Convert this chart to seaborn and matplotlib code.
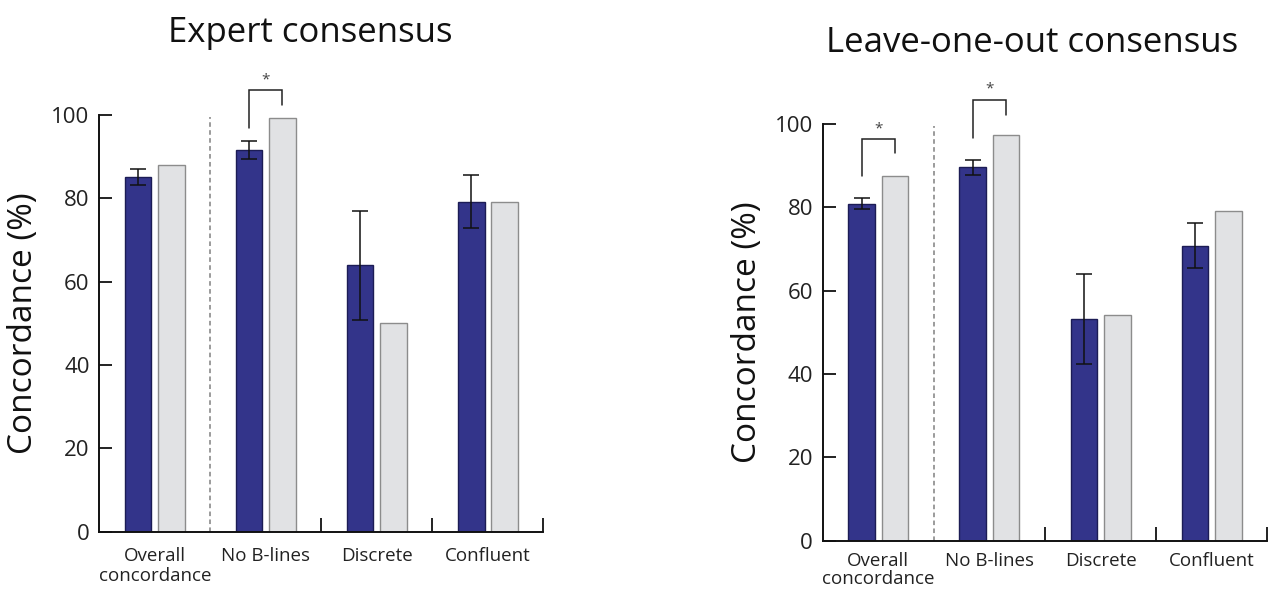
import numpy as np
import pandas as pd
import matplotlib
matplotlib.use("Agg")
import matplotlib.pyplot as plt
import seaborn as sns

categories = ["Overall\nconcordance", "No B-lines", "Discrete", "Confluent"]
series = ["Algorithm", "Reader"]

# Expert consensus panel
expert_algo = [85.0, 91.5, 64.0, 79.1]
expert_algo_low = [83.2, 89.4, 50.9, 73.0]
expert_algo_high = [87.0, 93.7, 77.0, 85.5]
expert_reader = [87.9, 99.3, 50.0, 79.2]

# Leave-one-out consensus panel
loo_algo = [80.7, 89.6, 53.2, 70.7]
loo_algo_low = [79.5, 87.8, 42.4, 65.4]
loo_algo_high = [82.2, 91.4, 64.0, 76.2]
loo_reader = [87.5, 97.4, 54.2, 79.1]

titles = ["Expert consensus", "Leave-one-out consensus"]
ylabel = "Concordance (%)"
yticks = [0, 20, 40, 60, 80, 100]

BLUE = "#33348a"
BLUE_EDGE = "#1c1c55"
GREY = "#e1e2e4"
GREY_EDGE = "#8c8c8c"

sns.set_theme(style="white")
plt.rcParams["font.family"] = ["Open Sans", "DejaVu Sans"]

fig = plt.figure(figsize=(12.68, 5.90), dpi=100)
ax1 = fig.add_axes([0.0783, 0.0988, 0.4285 - 0.0783, 0.8051 - 0.0988])
ax2 = fig.add_axes([0.6488, 0.0836, 0.9995 - 0.6488, 0.7898 - 0.0836])

panels = [
    (ax1, expert_algo, expert_algo_low, expert_algo_high, expert_reader,
     [(1, 96.9, 105.9, 102.4)], (310.5 / 1268, 1 - 41.7 / 590), 11, 1.15),
    (ax2, loo_algo, loo_algo_low, loo_algo_high, loo_reader,
     [(0, 87.5, 96.3, 93.0), (1, 96.7, 105.8, 102.2)],
     (1032 / 1268, 1 - 51.7 / 590), 8, 1.05),
]

for i, (ax, algo, low, high, reader, brackets, tpos, xpad, lsp) in enumerate(panels):
    df = pd.DataFrame({
        "category": categories * 2,
        "series": [series[0]] * 4 + [series[1]] * 4,
        "value": list(algo) + list(reader),
    })
    sns.barplot(data=df, x="category", y="value", hue="series",
                palette=[BLUE, GREY], width=0.6, gap=0.2,
                order=categories, hue_order=series, ax=ax, legend=False,
                errorbar=None, saturation=1)
    patches = ax.patches
    blue_x = []
    grey_x = []
    for j, p in enumerate(patches[:8]):
        if j < 4:
            p.set_edgecolor(BLUE_EDGE)
            blue_x.append(p.get_x() + p.get_width() / 2)
        else:
            p.set_edgecolor(GREY_EDGE)
            grey_x.append(p.get_x() + p.get_width() / 2)
        p.set_linewidth(1.0)

    a = np.array(algo)
    yerr = np.vstack([a - np.array(low), np.array(high) - a])
    ax.errorbar(blue_x, a, yerr=yerr, fmt="none", ecolor="#111111",
                elinewidth=1.1, capsize=6, capthick=1.1, zorder=5)

    for (g, yl, yt, yr) in brackets:
        xl, xr = blue_x[g], grey_x[g]
        ax.plot([xl, xl, xr, xr], [yl, yt, yt, yr], color="#222222",
                lw=1.1, clip_on=False, solid_joinstyle="miter")
        ax.text((xl + xr) / 2, yt + 0.8, "*", ha="center", va="bottom",
                fontsize=11, color="#444444", clip_on=False)

    ax.vlines(0.5, 0, 99.5, colors="#808080", linestyles=(0, (3, 2.2)), lw=1.1)

    ax.set_xlim(-0.5, 3.5)
    ax.set_ylim(0, 100)
    ax.set_yticks(yticks)
    ax.set_yticklabels([str(t) for t in yticks], fontsize=16, color="#222222")
    ax.set_xticks(range(4))
    ax.set_xticklabels(categories, fontsize=13.5, color="#222222",
                       linespacing=lsp)
    ax.set_xticks([1.5, 2.5, 3.5], minor=True)
    ax.tick_params(axis="x", which="major", length=0, pad=xpad)
    ax.tick_params(axis="x", which="minor", direction="in", length=10,
                   width=1.3, color="#111111", bottom=True)
    ax.tick_params(axis="y", which="major", direction="in", length=9,
                   width=1.3, color="#111111", left=True, pad=7)
    ax.set_xlabel("")
    ax.set_ylabel(ylabel, fontsize=24, color="#111111", labelpad=8)
    for s in ["top", "right"]:
        ax.spines[s].set_visible(False)
    for s in ["left", "bottom"]:
        ax.spines[s].set_color("#111111")
        ax.spines[s].set_linewidth(1.4)
    ax.grid(False)
    fig.text(tpos[0], tpos[1], titles[i], ha="center", va="baseline",
             fontsize=25, color="#111111")

fig.savefig("out.png", dpi=100)
